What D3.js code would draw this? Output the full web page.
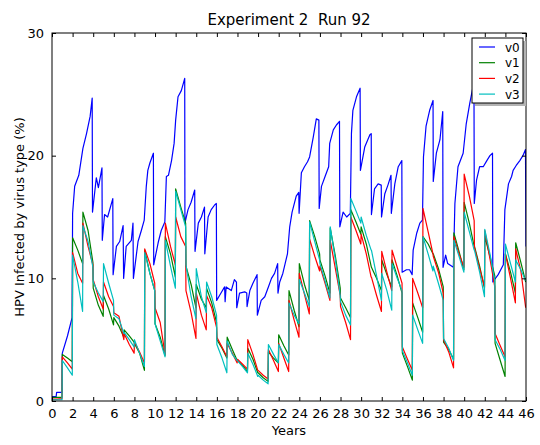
<!DOCTYPE html>
<html>
<head>
<meta charset="utf-8">
<script src="https://cdn.jsdelivr.net/npm/d3@7"></script>
<style>
  body { margin: 0; background: #fff; }
  text { font-family: "DejaVu Sans", sans-serif; fill: #000; }
</style>
</head>
<body>
<div id="chart"></div>
<script>
// chart data
var seriesNames = ["v0", "v1", "v2", "v3"];
var seriesColors = ["#0000ff", "#008000", "#ff0000", "#00bfbf"];
var xTicks = d3.range(0, 47, 2);
var yTicks = [0, 10, 20, 30];

// v0 as [year, percent] pairs (its drops do not sit exactly on whole years)
var v0 = [
  [0, 0.35], [0.4, 0.35], [0.45, 0.7], [0.98, 0.7],
  [1.0, 3.9], [1.5, 5.3], [1.95, 6.8],
  [2.0, 15.3], [2.2, 17.5], [2.6, 18.4], [3.0, 20.6], [3.35, 21.8], [3.7, 23.2], [3.9, 24.7],
  [3.93, 15.4], [4.3, 18.2], [4.5, 17.4], [4.85, 19.0],
  [4.88, 13.1], [5.1, 15.2], [5.4, 15.0], [5.9, 16.5],
  [5.93, 10.3], [6.25, 12.6], [6.57, 13.0], [6.9, 14.3],
  [6.95, 10.0], [7.2, 12.6], [7.7, 13.1], [7.86, 14.5],
  [7.9, 10.0], [8.35, 13.0], [8.67, 13.9], [8.95, 14.75],
  [9.15, 17.5], [9.3, 18.8], [9.5, 19.4], [9.84, 20.2],
  [9.87, 11.1], [10.3, 12.9], [10.6, 13.9], [10.95, 14.6],
  [11.1, 18.3], [11.3, 18.4], [11.6, 19.6], [11.85, 21.0], [12.0, 22.9], [12.23, 24.8], [12.55, 25.3], [12.88, 26.3],
  [12.9, 14.5], [13.2, 15.6], [13.5, 16.2], [13.85, 17.2],
  [13.88, 12.2], [14.2, 14.5], [14.5, 15.0], [14.8, 15.8],
  [14.83, 12.0], [15.15, 15.0], [15.45, 15.6], [15.8, 16.0], [15.95, 16.1],
  [15.98, 8.2], [16.4, 8.8], [16.75, 9.3], [16.8, 8.1], [16.9, 9.3], [17.4, 9.0], [17.7, 9.9], [17.9, 9.7],
  [17.93, 7.6], [18.2, 8.8], [18.7, 8.9], [18.9, 8.8],
  [18.93, 7.7], [19.2, 9.0], [19.5, 9.6], [19.9, 10.3],
  [19.93, 7.0], [20.3, 8.2], [20.65, 8.5], [21.0, 9.3], [21.3, 10.0], [21.6, 10.4], [21.9, 11.2],
  [21.93, 8.8], [22.1, 9.7], [22.4, 10.4], [22.85, 12.0], [23.07, 14.2], [23.3, 15.4], [23.7, 16.7], [23.95, 17.0],
  [23.98, 15.3], [24.2, 18.6], [24.5, 19.1], [24.8, 19.5], [25.0, 19.9], [25.35, 21.5], [25.65, 23.0], [25.9, 22.9],
  [25.93, 15.7], [26.15, 17.5], [26.5, 18.3], [26.85, 19.1], [26.95, 21.0], [27.3, 22.1], [27.6, 22.5], [27.9, 22.8],
  [27.93, 14.2], [28.25, 15.4], [28.6, 15.0], [28.95, 15.3],
  [29.06, 21.8], [29.2, 23.7], [29.55, 24.8], [29.9, 25.5],
  [29.93, 18.8], [30.35, 20.7], [30.85, 21.7], [30.98, 21.8],
  [31.0, 15.2], [31.3, 17.3], [31.65, 17.7], [31.95, 17.6],
  [31.98, 15.0], [32.3, 16.9], [32.6, 17.6], [32.9, 18.4],
  [32.93, 15.3], [33.27, 17.7], [33.6, 19.1], [33.95, 19.6],
  [33.98, 10.5], [34.4, 10.7], [34.7, 10.7], [34.95, 10.3],
  [35.05, 12.3], [35.4, 13.7], [35.7, 14.5], [35.95, 14.75],
  [36.05, 19.9], [36.3, 22.4], [36.65, 23.7], [36.98, 24.5],
  [37.0, 17.9], [37.3, 20.2], [37.65, 21.3], [37.92, 23.6],
  [37.95, 10.9], [38.2, 11.9], [38.4, 11.2], [38.95, 10.9],
  [39.1, 16.1], [39.4, 19.1], [39.9, 20.2], [40.2, 22.6], [40.55, 24.3], [40.95, 26.0],
  [40.98, 16.1], [41.2, 18.0], [41.5, 19.1], [41.85, 19.1], [42.2, 19.6], [42.5, 20.0], [42.75, 20.2],
  [42.78, 9.7], [43.3, 10.3], [43.8, 11.1], [43.95, 15.6], [44.3, 17.7], [44.6, 18.3], [44.75, 18.8],
  [45.05, 19.2], [45.4, 19.6], [45.7, 20.0], [45.95, 20.5], [46.0, 12.6]
];

// v1..v3: one [start, middle, end] triplet per year, year 0 to 45
var v1 = [
  [0.3, 0.3, 0.3], [3.8, 3.5, 3.2], [13.3, 12.3, 11.2], [15.4, 13.9, 11.3], [9.2, 7.8, 6.9],
  [8.6, 7.5, 6.2], [6.8, 6.1, 5.2], [5.8, 5.3, 4.8], [4.7, 3.9, 2.5], [12.3, 10.4, 9.0],
  [6.3, 5.2, 3.7], [13.4, 12.0, 10.1], [17.3, 15.8, 14.5], [11.0, 9.5, 7.6], [9.5, 8.3, 7.6],
  [9.2, 8.0, 6.4], [5.0, 4.3, 3.5], [5.2, 4.2, 3.3], [3.3, 2.9, 2.4], [4.3, 3.4, 2.3],
  [2.3, 1.9, 1.6], [4.0, 3.5, 3.1], [5.4, 4.5, 3.75], [9.0, 7.4, 6.05], [11.2, 9.5, 8.2],
  [14.7, 13.4, 12.0], [11.5, 10.2, 8.8], [14.1, 11.8, 9.2], [8.4, 7.6, 6.8], [15.6, 14.6, 13.6],
  [14.2, 12.8, 11.0], [10.9, 10.0, 9.0], [11.5, 10.3, 9.3], [11.5, 10.2, 8.8], [3.9, 2.8, 1.7],
  [8.0, 6.8, 5.6], [13.4, 12.8, 12.0], [12.0, 10.8, 9.3], [4.8, 4.2, 3.4], [13.7, 12.2, 10.7],
  [16.2, 14.5, 12.6], [12.6, 11.0, 9.2], [13.4, 11.8, 10.2], [4.7, 3.3, 2.0], [12.0, 10.5, 8.8],
  [12.9, 11.3, 9.7]
];
var v2 = [
  [0.15, 0.15, 0.2], [3.6, 3.1, 2.6], [12.1, 10.4, 9.6], [14.5, 12.6, 11.1], [9.9, 8.5, 7.5],
  [9.7, 8.5, 7.7], [7.2, 6.9, 5.0], [5.5, 4.6, 3.9], [4.8, 4.0, 3.1], [12.4, 11.2, 9.6],
  [7.6, 6.4, 3.8], [14.5, 12.6, 11.1], [15.0, 13.4, 12.6], [9.0, 7.2, 5.1], [8.8, 7.0, 5.8],
  [8.6, 7.6, 6.0], [5.2, 4.4, 3.6], [4.7, 3.9, 3.1], [3.4, 3.0, 2.6], [5.0, 3.8, 2.5],
  [2.5, 2.1, 1.8], [4.2, 3.3, 2.4], [4.7, 3.5, 2.4], [8.2, 6.6, 5.2], [10.4, 8.7, 7.1],
  [13.2, 11.8, 10.6], [11.0, 9.6, 8.2], [13.1, 10.8, 8.6], [7.7, 6.4, 5.0], [15.0, 13.9, 12.8],
  [13.6, 12.0, 10.1], [10.1, 8.6, 7.3], [12.2, 10.5, 9.0], [12.3, 10.9, 9.6], [4.4, 3.4, 2.5],
  [10.0, 8.8, 7.6], [15.7, 13.8, 12.0], [11.8, 10.5, 8.8], [5.0, 4.0, 2.7], [13.4, 12.0, 10.9],
  [18.5, 16.7, 14.7], [12.5, 10.8, 9.3], [13.9, 11.6, 9.3], [5.5, 4.5, 3.6], [12.0, 10.0, 8.0],
  [12.4, 10.6, 7.6]
];
var v3 = [
  [0.1, 0.1, 0.1], [3.3, 2.7, 2.1], [11.9, 9.7, 7.3], [14.3, 13.0, 10.9], [9.7, 8.8, 8.1],
  [11.2, 9.6, 8.2], [7.0, 6.7, 5.5], [5.6, 5.0, 4.4], [5.0, 3.9, 2.8], [12.1, 10.4, 9.0],
  [6.3, 4.9, 3.6], [13.1, 11.0, 9.2], [17.1, 15.6, 14.2], [11.1, 8.5, 6.7], [10.8, 8.5, 7.2],
  [9.7, 8.5, 7.0], [4.6, 3.5, 2.3], [4.9, 3.8, 3.3], [3.3, 2.8, 2.3], [3.9, 3.0, 2.0],
  [2.1, 1.7, 1.4], [4.6, 3.8, 3.1], [4.6, 3.8, 3.1], [8.0, 7.0, 6.3], [9.9, 8.8, 7.7],
  [14.6, 13.0, 11.5], [11.2, 9.8, 8.4], [14.2, 11.5, 8.6], [8.1, 7.0, 6.2], [16.5, 15.5, 14.5],
  [15.0, 13.5, 12.3], [12.3, 10.2, 8.2], [10.4, 9.0, 7.4], [11.2, 10.0, 9.0], [4.1, 3.1, 2.1],
  [7.0, 5.8, 4.7], [13.4, 12.0, 10.6], [11.0, 9.6, 8.2], [5.1, 4.3, 3.3], [13.1, 11.8, 10.5],
  [15.4, 13.8, 12.3], [12.3, 10.5, 8.5], [14.0, 12.0, 9.8], [5.0, 4.2, 3.3], [12.8, 11.2, 9.7],
  [11.5, 10.7, 9.8]
];
// where in each year the three readings were taken
var yearOffsets = [0, 0.5, 0.97];

// setting up SVG
var svgWidth = 540;
var svgHeight = 445;

var margin = {
  top: 33,
  right: 14,
  bottom: 44,
  left: 52
};

var width = svgWidth - margin.left - margin.right;
var height = svgHeight - margin.top - margin.bottom;

var svg = d3.select("#chart")
  .append("svg")
  .attr("width", svgWidth)
  .attr("height", svgHeight);

var chartGroup = svg.append("g")
  .attr("transform", `translate(${margin.left}, ${margin.top})`);

var xScale = d3.scaleLinear().domain([0, 46]).range([0, width]);
var yScale = d3.scaleLinear().domain([0, 30]).range([height, 0]);

// turn the yearly triplets into [year, value] points
function yearlyPoints(triplets) {
  var pts = [];
  triplets.forEach(function(tr, year) {
    tr.forEach(function(v, i) {
      pts.push([year + yearOffsets[i], v]);
    });
  });
  return pts;
}

var allSeries = [v0, yearlyPoints(v1), yearlyPoints(v2), yearlyPoints(v3)];

chartGroup.append("clipPath")
  .attr("id", "plotclip")
  .append("rect")
  .attr("width", width)
  .attr("height", height);

var line = d3.line()
  .x(d => xScale(d[0]))
  .y(d => yScale(d[1]));

chartGroup.append("g")
  .attr("clip-path", "url(#plotclip)")
  .selectAll("path")
  .data(allSeries)
  .enter()
  .append("path")
  .attr("d", line)
  .attr("fill", "none")
  .attr("stroke", (d, i) => seriesColors[i])
  .attr("stroke-width", 1.2)
  .attr("stroke-linejoin", "round");

// axes, ticks point inward like the old matplotlib style
var bottomAxis = d3.axisBottom(xScale).tickValues(xTicks).tickSizeInner(-4).tickSizeOuter(0).tickPadding(8);
var topAxis = d3.axisTop(xScale).tickValues(xTicks).tickSizeInner(-4).tickSizeOuter(0).tickFormat("");
var leftAxis = d3.axisLeft(yScale).tickValues(yTicks).tickSizeInner(-4).tickSizeOuter(0).tickPadding(8);
var rightAxis = d3.axisRight(yScale).tickValues(yTicks).tickSizeInner(-4).tickSizeOuter(0).tickFormat("");

chartGroup.append("g").attr("transform", `translate(0, ${height})`).call(bottomAxis);
chartGroup.append("g").call(topAxis);
chartGroup.append("g").call(leftAxis);
chartGroup.append("g").attr("transform", `translate(${width}, 0)`).call(rightAxis);

chartGroup.selectAll(".domain").remove();
chartGroup.selectAll(".tick line").attr("stroke", "#000");
chartGroup.selectAll(".tick text")
  .style("font-size", "13px")
  .style("font-family", "DejaVu Sans, sans-serif");

// frame
chartGroup.append("rect")
  .attr("width", width)
  .attr("height", height)
  .attr("fill", "none")
  .attr("stroke", "#000")
  .attr("stroke-width", 1);

// title and axis labels
svg.append("text")
  .attr("x", margin.left + width / 2)
  .attr("y", 25)
  .attr("text-anchor", "middle")
  .style("font-size", "15px")
  .style("white-space", "pre")
  .text("Experiment 2  Run 92");

svg.append("text")
  .attr("x", margin.left + width / 2)
  .attr("y", 435)
  .attr("text-anchor", "middle")
  .style("font-size", "13px")
  .text("Years");

svg.append("text")
  .attr("transform", "rotate(-90)")
  .attr("x", -(margin.top + height / 2))
  .attr("y", 24)
  .attr("text-anchor", "middle")
  .style("font-size", "13px")
  .text("HPV Infected by virus type (%)");

// legend with a drop shadow
var legend = svg.append("g").attr("transform", "translate(472, 38)");
legend.append("rect")
  .attr("x", 3).attr("y", 3)
  .attr("width", 51).attr("height", 65)
  .attr("fill", "#b3b3b3");
legend.append("rect")
  .attr("width", 51).attr("height", 65)
  .attr("fill", "#fff")
  .attr("stroke", "#000")
  .attr("stroke-width", 1);

var legendRows = legend.selectAll(".row")
  .data(seriesNames)
  .enter()
  .append("g")
  .attr("transform", (d, i) => `translate(0, ${9 + i * 15.7})`);

legendRows.append("line")
  .attr("x1", 7).attr("x2", 23)
  .attr("y1", 0).attr("y2", 0)
  .attr("stroke", (d, i) => seriesColors[i])
  .attr("stroke-width", 1.2);

legendRows.append("text")
  .attr("x", 33)
  .attr("y", 4.5)
  .style("font-size", "12px")
  .text(d => d);
</script>
</body>
</html>
